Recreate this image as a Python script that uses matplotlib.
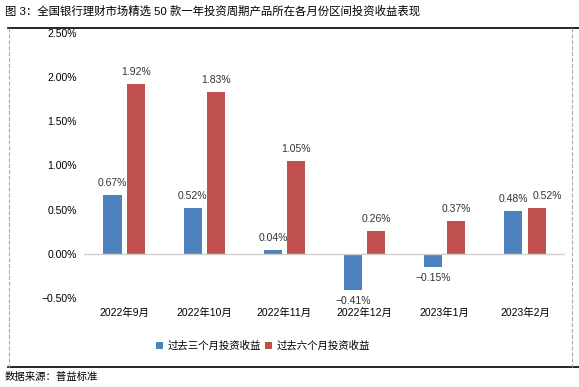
import matplotlib
matplotlib.use("Agg")
import matplotlib.pyplot as plt
from matplotlib.lines import Line2D
import numpy as np

plt.rcParams['font.family'] = ['Liberation Sans', 'Noto Sans CJK SC', 'DejaVu Sans']

categories = ['2022年9月', '2022年10月', '2022年11月', '2022年12月', '2023年1月', '2023年2月']
ret_3m = [0.67, 0.52, 0.04, -0.41, -0.15, 0.48]
ret_6m = [1.92, 1.83, 1.05, 0.26, 0.37, 0.52]
yticks = [-0.5, 0.0, 0.5, 1.0, 1.5, 2.0, 2.5]

blue = '#4F81BD'
red = '#C0504D'

fig = plt.figure(figsize=(5.79, 3.87), dpi=100)
ax = fig.add_axes([0.145, 0.230, 0.831, 0.685])

x = np.arange(len(categories))
w = 0.225
off = 0.144
ax.bar(x - off, ret_3m, w, color=blue, label='过去三个月投资收益')
ax.bar(x + off, ret_6m, w, color=red, label='过去六个月投资收益')

for xi, v in zip(x - off, ret_3m):
    va = 'bottom' if v >= 0 else 'top'
    dy = 5 if v >= 0 else -4
    ax.annotate(f'{v:.2f}%'.replace('-', '−'), (xi, v), xytext=(0, dy), textcoords='offset points',
                ha='center', va=va, fontsize=7.5, color='#333333')
for i, (xi, v) in enumerate(zip(x + off, ret_6m)):
    # Excel nudged the last label right so it clears its neighbour
    dx = 8 if i == len(ret_6m) - 1 else 0
    ax.annotate(f'{v:.2f}%', (xi, v), xytext=(dx, 5), textcoords='offset points',
                ha='center', va='bottom', fontsize=7.5, color='#333333')

ax.set_xlim(-0.5, len(categories) - 0.5)
ax.set_ylim(-0.5, 2.5)
ax.axhline(0, color='#d0d0d0', lw=1)
ax.set_yticks(yticks)
ax.set_yticklabels([f'{t:.2f}%'.replace('-', '−') for t in yticks], fontsize=7.5)
ax.set_xticks(x)
ax.set_xticklabels(categories, fontsize=7.5)
ax.tick_params(length=0, pad=5, axis='y')
ax.tick_params(length=0, pad=7, axis='x')
for s in ax.spines.values():
    s.set_visible(False)

ax.legend(loc='center', bbox_to_anchor=(0.372, -0.18), ncol=2, frameon=False,
          fontsize=7.5, handlelength=0.7, handleheight=0.7, columnspacing=0.4, handletextpad=0.4)

# frame lines and captions
fig.add_artist(Line2D([0.014, 1.0], [1 - 28 / 387] * 2, color='black', lw=1.2))
fig.add_artist(Line2D([0.014, 1.0], [1 - 367 / 387] * 2, color='black', lw=1.2))
fig.add_artist(Line2D([0.016, 0.016], [1 - 28 / 387, 1 - 367 / 387], color='#aaaaaa', lw=0.8, ls='--'))
fig.add_artist(Line2D([0.988, 0.988], [1 - 28 / 387, 1 - 367 / 387], color='#aaaaaa', lw=0.8, ls='--'))
fig.text(0.008, 1 - 11 / 387, '图 3：全国银行理财市场精选 50 款一年投资周期产品所在各月份区间投资收益表现',
         fontsize=8.2, va='center', ha='left')
fig.text(0.008, 1 - 377 / 387, '数据来源：普益标准', fontsize=7.5, va='center', ha='left')

fig.savefig('out.png', dpi=100)
